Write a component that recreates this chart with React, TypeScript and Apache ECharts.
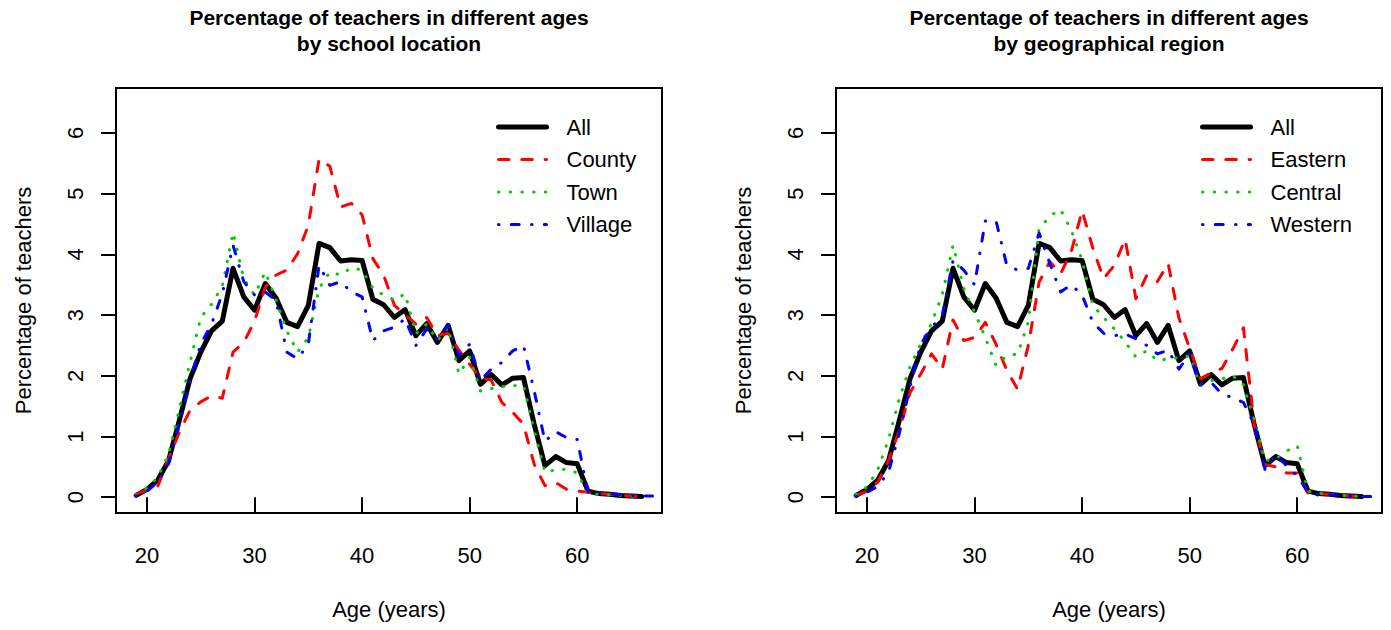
import React, { useEffect, useRef } from "react";
import * as echarts from "echarts";

// ---------- data ----------
const ages = [
  19, 20, 21, 22, 23, 24, 25, 26, 27, 28,
  29, 30, 31, 32, 33, 34, 35, 36, 37, 38,
  39, 40, 41, 42, 43, 44, 45, 46, 47, 48,
  49, 50, 51, 52, 53, 54, 55, 56, 57, 58,
  59, 60, 61, 62, 63, 64, 65, 66,
];
const agesTo67 = [
  19, 20, 21, 22, 23, 24, 25, 26, 27, 28,
  29, 30, 31, 32, 33, 34, 35, 36, 37, 38,
  39, 40, 41, 42, 43, 44, 45, 46, 47, 48,
  49, 50, 51, 52, 53, 54, 55, 56, 57, 58,
  59, 60, 61, 62, 63, 64, 65, 66, 67,
];

const allPct = [
  0.03, 0.13, 0.28, 0.60, 1.26, 1.95, 2.39, 2.74, 2.90, 3.77,
  3.30, 3.08, 3.52, 3.28, 2.88, 2.81, 3.16, 4.18, 4.11, 3.89,
  3.91, 3.90, 3.26, 3.17, 2.96, 3.09, 2.66, 2.86, 2.55, 2.83,
  2.25, 2.41, 1.86, 2.02, 1.85, 1.96, 1.97, 1.20, 0.52, 0.67,
  0.57, 0.55, 0.10, 0.06, 0.05, 0.03, 0.02, 0.01,
];
const countyPct = [
  0.05, 0.12, 0.18, 0.63, 1.07, 1.43, 1.57, 1.67, 1.63, 2.39,
  2.55, 2.90, 3.46, 3.66, 3.74, 4.01, 4.48, 5.57, 5.45, 4.78,
  4.84, 4.65, 3.93, 3.66, 3.16, 3.01, 2.85, 2.96, 2.66, 2.70,
  2.42, 2.19, 1.96, 1.93, 1.56, 1.40, 1.20, 0.54, 0.19, 0.24,
  0.13, 0.10, 0.08, 0.06, 0.05, 0.03, 0.02, 0.01,
];
const townPct = [
  0.03, 0.15, 0.33, 0.70, 1.45, 2.22, 2.96, 3.18, 3.47, 4.36,
  3.60, 3.33, 3.71, 3.25, 2.74, 2.39, 2.63, 3.44, 3.71, 3.66,
  3.78, 3.74, 3.44, 3.33, 3.25, 3.35, 2.69, 2.85, 2.58, 2.80,
  2.03, 2.30, 1.75, 1.79, 1.82, 1.84, 1.84, 1.10, 0.41, 0.45,
  0.46, 0.40, 0.05, 0.05, 0.04, 0.03, 0.02, 0.01,
];
const villagePct = [
  0.02, 0.10, 0.25, 0.55, 1.20, 1.92, 2.52, 2.85, 3.35, 4.15,
  3.55, 3.33, 3.38, 3.24, 2.39, 2.28, 2.52, 3.82, 3.49, 3.55,
  3.38, 3.30, 2.58, 2.74, 2.80, 2.94, 2.50, 2.77, 2.60, 2.83,
  2.33, 2.52, 1.92, 2.11, 2.22, 2.41, 2.50, 1.75, 0.92, 1.08,
  0.98, 0.95, 0.08, 0.08, 0.06, 0.04, 0.03, 0.02, 0.02,
];
const easternPct = [
  0.03, 0.10, 0.25, 0.60, 1.10, 1.72, 2.03, 2.36, 2.11, 2.92,
  2.58, 2.63, 2.88, 2.52, 2.09, 1.78, 2.50, 3.54, 3.88, 3.68,
  4.05, 4.72, 4.10, 3.60, 3.82, 4.25, 3.27, 3.65, 3.55, 3.85,
  2.95, 2.45, 1.95, 2.05, 2.12, 2.44, 2.79, 1.20, 0.54, 0.50,
  0.40, 0.40, 0.07, 0.06, 0.05, 0.03, 0.02, 0.01,
];
const centralPct = [
  0.04, 0.17, 0.45, 0.95, 1.62, 2.15, 2.53, 2.86, 3.34, 4.15,
  3.44, 3.05, 2.63, 2.17, 2.33, 2.36, 2.88, 4.42, 4.63, 4.74,
  4.39, 3.90, 3.16, 2.96, 2.77, 2.56, 2.31, 2.41, 2.25, 2.28,
  2.30, 2.33, 1.84, 1.92, 1.95, 2.00, 1.85, 1.26, 0.60, 0.63,
  0.76, 0.85, 0.10, 0.07, 0.05, 0.03, 0.02, 0.01, 0.02,
];
const westernPct = [
  0.01, 0.08, 0.18, 0.41, 1.05, 1.81, 2.52, 2.80, 2.99, 3.90,
  3.74, 3.50, 4.55, 4.55, 3.82, 3.74, 3.77, 4.35, 3.85, 3.38,
  3.50, 3.33, 2.88, 2.70, 2.66, 2.69, 2.61, 2.50, 2.36, 2.42,
  2.11, 2.36, 1.86, 1.89, 1.70, 1.64, 1.56, 1.20, 0.46, 0.71,
  0.52, 0.35, 0.08, 0.03, 0.04, 0.03, 0.02, 0.01, 0.01,
];

const xTicks = [20, 30, 40, 50, 60];
const yTicks = [0, 1, 2, 3, 4, 5, 6];
const leftNames = ["All", "County", "Town", "Village"];
const rightNames = ["All", "Eastern", "Central", "Western"];
const titles = [
  "Percentage of teachers in different ages\nby school location",
  "Percentage of teachers in different ages\nby geographical region",
];

// ---------- styles ----------
const FONT = '"Liberation Sans", Arial, Helvetica, sans-serif';
const lineStyles = [
  { color: "#000000", width: 5, type: "solid", cap: "round", join: "round" },
  { color: "#FF0000", width: 3, type: [10.5, 12.8], cap: "round", join: "round" },
  { color: "#00CD00", width: 3, type: [0.5, 11.2], cap: "round", join: "round" },
  { color: "#0000FF", width: 3, type: [0.5, 12.2, 8, 12.3], cap: "round", join: "round" },
];

const pairs = (xs: number[], ys: number[]) => ys.map((v, i) => [xs[i], v]);

const GRID_LEFT = [116, 836];
const GRID_W = 546;

export default function App() {
  const ref = useRef<HTMLDivElement>(null);

  useEffect(() => {
    if (!ref.current) return;
    const chart = echarts.init(ref.current, null, { renderer: "svg" });

    const textBase = { color: "#000", fontFamily: FONT, fontSize: 22 };

    const panels = [
      { names: leftNames, xs: [ages, ages, ages, agesTo67], ys: [allPct, countyPct, townPct, villagePct] },
      { names: rightNames, xs: [ages, ages, agesTo67, agesTo67], ys: [allPct, easternPct, centralPct, westernPct] },
    ];

    const series: any[] = [];
    panels.forEach((p, gi) => {
      p.names.forEach((name, si) => {
        series.push({
          type: "line",
          name,
          xAxisIndex: gi,
          yAxisIndex: gi,
          data: pairs(p.xs[si], p.ys[si]),
          symbol: "none",
          silent: true,
          clip: true,
          z: 2 + si,
          lineStyle: lineStyles[si],
          itemStyle: { color: lineStyles[si].color },
        });
      });
    });

    const option: any = {
      animation: false,
      backgroundColor: "#ffffff",
      title: [0, 1].map((i) => ({
        text: titles[i],
        left: GRID_LEFT[i] + GRID_W / 2,
        top: 4,
        padding: 0,
        textAlign: "center",
        textStyle: { color: "#000", fontFamily: FONT, fontSize: 21, fontWeight: "bold", lineHeight: 26 },
      })),
      legend: [
        { names: leftNames, left: 496 },
        { names: rightNames, left: 1200 },
      ].map((l) => ({
        data: l.names,
        left: l.left,
        top: 115,
        orient: "vertical",
        itemWidth: 48,
        itemHeight: 14,
        itemGap: 8.5,
        padding: 0,
        selectedMode: false,
        lineStyle: { width: "inherit" },
        itemStyle: { color: "rgba(0,0,0,0)", borderWidth: 0, opacity: 0 },
        textStyle: { ...textBase, lineHeight: 24, padding: [0, 0, 0, 15] },
      })),
      grid: [0, 1].map((i) => ({
        left: GRID_LEFT[i],
        top: 88,
        width: GRID_W,
        height: 425,
        show: true,
        borderColor: "#000",
        borderWidth: 2,
        backgroundColor: "transparent",
      })),
      xAxis: [0, 1].map((i) => ({
        type: "value",
        gridIndex: i,
        min: 17.12,
        max: 67.88,
        axisLine: { show: false },
        splitLine: { show: false },
        axisTick: { show: true, length: 15, lineStyle: { color: "#000", width: 2 }, customValues: xTicks },
        axisLabel: { ...textBase, margin: 31, customValues: xTicks },
        name: "Age (years)",
        nameLocation: "middle",
        nameGap: 85,
        nameTextStyle: { ...textBase },
      })),
      yAxis: [0, 1].map((i) => ({
        type: "value",
        gridIndex: i,
        min: -0.26,
        max: 6.74,
        axisLine: { show: false },
        splitLine: { show: false },
        axisTick: { show: true, length: 15, lineStyle: { color: "#000", width: 2 }, customValues: yTicks },
        axisLabel: { ...textBase, rotate: 90, margin: 30, customValues: yTicks },
        name: "Percentage of teachers",
        nameLocation: "middle",
        nameGap: 82,
        nameTextStyle: { ...textBase },
      })),
      series,
    };

    chart.setOption(option);
    return () => chart.dispose();
  }, []);

  return (
    <div
      ref={ref}
      style={{ position: "fixed", left: 0, top: 0, width: 1391, height: 630, background: "#fff" }}
    />
  );
}
